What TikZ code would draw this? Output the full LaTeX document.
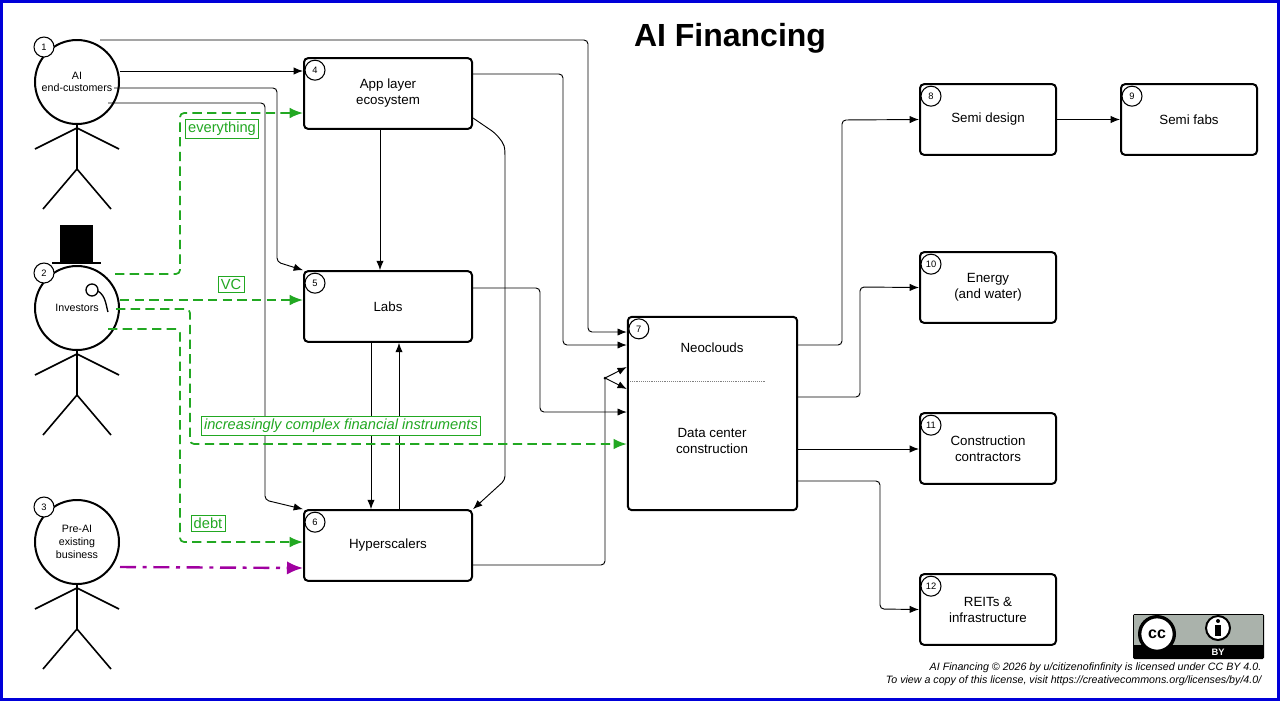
\documentclass[tikz,border=0pt]{standalone}
\usepackage{fontspec}
\setmainfont{Liberation Sans}
\usetikzlibrary{calc,positioning,arrows.meta}
\definecolor{fingreen}{RGB}{34,168,34}
\definecolor{finpurple}{RGB}{160,0,160}
\definecolor{ccgray}{RGB}{170,178,171}
\tikzset{
  box/.style={draw,line width=1.5pt,rounded corners=3pt,minimum width=126pt,minimum height=53pt,align=center,font=\fontsize{10}{12}\selectfont},
  sbox/.style={box,minimum width=102pt},
  num/.style={draw,circle,fill=white,line width=0.8pt,inner sep=0pt,minimum size=15pt,font=\fontsize{7}{8}\selectfont},
  head/.style={draw,circle,line width=1.5pt,minimum size=63pt,inner sep=0pt,align=center,font=\fontsize{8}{9.5}\selectfont},
  limb/.style={line width=1.2pt},
  flow/.style={-{Latex[length=7pt,width=5.5pt]},line width=0.7pt,rounded corners=3pt},
  money/.style={-{Latex[length=10pt,width=8pt]},dashed,dash pattern=on 7pt off 4pt,fingreen,line width=1.3pt,rounded corners=3pt},
  tag/.style={draw=fingreen,text=fingreen,inner sep=2pt,fill=white,font=\fontsize{11}{13}\selectfont}
}
\begin{document}
\begin{tikzpicture}[x=0.75pt,y=-0.75pt]
\useasboundingbox (0,0) rectangle (1280,701);
\draw[blue!85!black,line width=2.5pt] (1.5,1.5) rectangle (1278.5,699.5);
\node[font=\bfseries\fontsize{24}{28}\selectfont] (title) at (730,38) {AI Financing};

% people
\foreach \n/\y/\t in {1/82/{AI\\end-customers},2/308/{Investors},3/542/{Pre-AI\\existing\\business}}{
  \node[head] (h\n) at (77,\y) {\t};
  \node[num] (n\n) at ($(h\n.center)+(-33,-35)$) {\n};
  \draw[limb] (h\n.south) -- ++(0,44) coordinate (hip\n);
  \draw[limb] ($(h\n.south)+(-42,24)$) -- ($(h\n.south)+(0,3)$) -- ($(h\n.south)+(42,24)$);
  \draw[limb] ($(hip\n)+(-34,40)$) -- (hip\n) -- ($(hip\n)+(34,40)$);
}
% top hat and monocle
\fill (60,225) rectangle (93,262);
\draw[line width=1.2pt] (52,263) -- (101,263);
\draw[line width=1pt] (92,290) circle (6);
\draw[line width=1pt] (98,291) .. controls (106,296) and (106,306) .. (108,312);

% boxes
\node[box] (b4) at (388,93.5) {App layer\\ecosystem};
\node[box] (b5) at (388,306.5) {Labs};
\node[box] (b6) at (388,545.5) {Hyperscalers};
\node[box,minimum width=127pt,minimum height=145pt] (b7) at (712.5,413.5) {};
\node[font=\fontsize{10}{12}\selectfont] (neo) at (712,348) {Neoclouds};
\node[align=center,font=\fontsize{10}{12}\selectfont] (dcc) at (712,441) {Data center\\construction};
\draw[densely dotted,gray] (630,381) -- (765,381);
\node[sbox] (b8) at (988,119.5) {Semi design};
\node[sbox] (b9) at (1189,119.5) {Semi fabs};
\node[sbox] (b10) at (988,287.5) {Energy\\(and water)};
\node[sbox] (b11) at (988,448.5) {Construction\\contractors};
\node[sbox] (b12) at (988,609.5) {REITs \&\\infrastructure};
\foreach \b/\k in {b4/4,b5/5,b6/6,b7/7,b8/8,b9/9,b10/10,b11/11,b12/12}
  \node[num] (n\k) at ($(\b.north west)+(12,13)$) {\k};

% black flows
\draw[flow] (100,40) -| (588,332) -- (b7.west|-0,332);
\draw[flow] (h1.east|-0,71) -- (b4.west|-0,71);
\draw[flow] (114,88) -| (277,262) -- (b5.north west);
\draw[flow] (108,103) -| (265,500) -- (b6.north west);
\draw[flow] (b4.east|-0,74) -| (563,345) -- (b7.west|-0,345);
\draw[flow] (b4.east|-0,118) -- (495,133) .. controls (505,145) .. (505,165) -- (505,480) -- (b6.north east);
\draw[flow] (b4.south-|380,0) -- (b5.north-|380,0);
\draw[flow] (b5.south-|371,0) -- (b6.north-|371,0);
\draw[flow] (b6.north-|399,0) -- (b5.south-|399,0);
\draw[flow] (b5.east|-0,288) -| (540,412) -- (b7.west|-0,412);
\draw[line width=0.7pt,rounded corners=3pt] (b6.east|-0,565) -| (605,378) coordinate (split);
\fill (split) circle (1.5);
\draw[flow] (split) -- (b7.west|-0,367);
\draw[flow] (split) -- (b7.west|-0,389);
\draw[flow] (b7.east|-0,345) -| (842,120) -- (b8.west);
\draw[flow] (b7.east|-0,397) -| (860,287) -- (b10.west);
\draw[flow] (b7.east|-0,449) -- (b11.west|-0,449);
\draw[flow] (b7.east|-0,481) -| (880,609) -- (b12.west);
\draw[flow] (b8.east) -- (b9.west);

% investor money
\draw[money] (115,274) -| (180,113) -- (b4.west|-0,113);
\draw[money] (h2.east|-0,300) -- (b5.west|-0,300);
\draw[money] (116,309) -| (190,444) -- (b7.west|-0,444);
\draw[money] (108,329) -| (180,542) -- (b6.west|-0,542);
\node[tag] (t1) at (222,129) {everything};
\node[tag] (t2) at (231,284) {VC};
\node[tag,font=\itshape\fontsize{11}{13}\selectfont] (t3) at (341,426) {increasingly complex financial instruments};
\node[tag] (t4) at (208,523) {debt};
\draw[-{Latex[length=12pt,width=10pt]},finpurple,line width=1.8pt,dash pattern=on 12pt off 5pt on 3pt off 5pt] (h3.east|-0,567) -- (b6.west|-0,568);

% licence badge
\fill[black,rounded corners=1pt] (1133,614) rectangle (1264,659);
\fill[ccgray] (1134,615) rectangle (1263,645);
\node[draw,circle,fill=white,line width=2.5pt,minimum size=26pt,inner sep=0pt,font=\bfseries\fontsize{12}{12}\selectfont] (cc) at (1157,634) {cc};
\node[draw,circle,fill=white,line width=1.5pt,minimum size=18pt,inner sep=0pt] (by) at (1218,628) {};
\fill (1218,621) circle (2);
\fill (1215,625) rectangle (1221,636);
\node[text=white,font=\bfseries\fontsize{7}{8}\selectfont] (bytxt) at (1218,652) {BY};
\node[anchor=east,align=right,font=\itshape\fontsize{8}{9.8}\selectfont] (lic) at (1266,674) {AI Financing © 2026 by u/citizenofinfinity is licensed under CC BY 4.0.\\To view a copy of this license, visit https://creativecommons.org/licenses/by/4.0/};
\end{tikzpicture}
\end{document}
